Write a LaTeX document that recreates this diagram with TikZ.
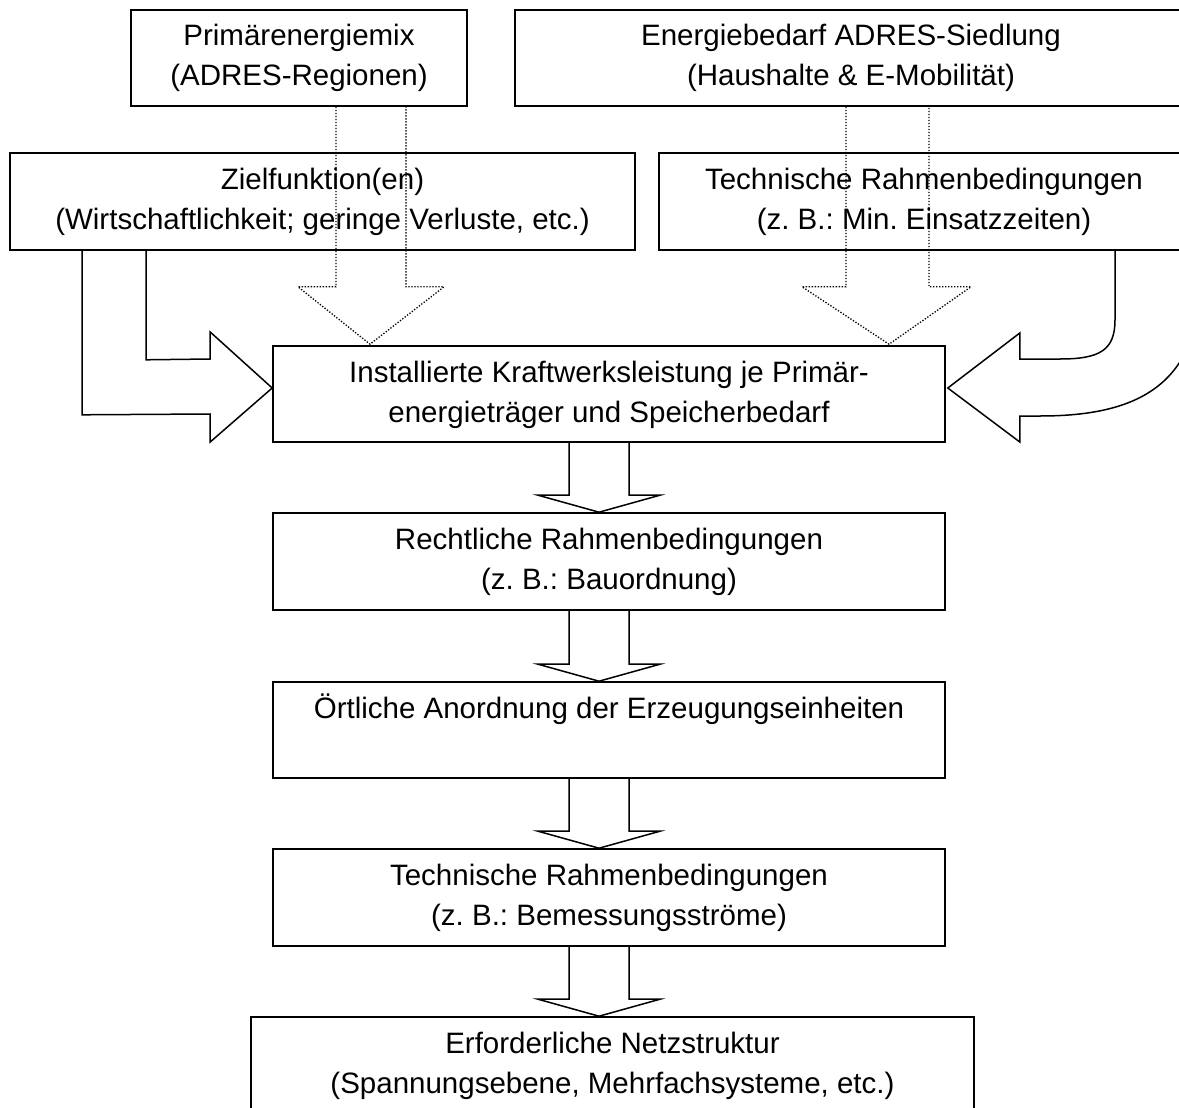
\documentclass[tikz,border=0pt]{standalone}
\usepackage{fontspec}
\setmainfont{Liberation Sans}
\usetikzlibrary{calc}
\frenchspacing
\begin{document}
\begin{tikzpicture}[x=1pt,y=-1pt,
  box/.style={draw=black, line width=1.6pt, align=center, minimum height=96pt, inner sep=0pt,
    font=\fontsize{29.5}{40}\selectfont},
  flow/.style={draw=black, line width=1.5pt, line join=miter},
  dots/.style={draw=black, line width=1.3pt, dash pattern=on 1.3pt off 1.7pt}]
\useasboundingbox (0,0) rectangle (1179,1108);
\clip (0,0) rectangle (1179,1108);
% boxes
\node[box, minimum width=336pt] (b1) at (299,58) {\strut Primärenergiemix\\\strut (ADRES-Regionen)};
\node[box, minimum width=672pt] (b2) at (851,58) {\strut Energiebedarf ADRES-Siedlung\\\strut (Haushalte \& E-Mobilität)};
\node[box, minimum width=625pt, minimum height=97pt] (z) at (322.5,201.5) {\strut Zielfunktion(en)\\\strut (Wirtschaftlichkeit; geringe Verluste, etc.)};
\node[box, minimum width=530pt, minimum height=97pt] (t1) at (924,201.5) {\strut Technische Rahmenbedingungen\\\strut (z. B.: Min. Einsatzzeiten)};
\node[box, minimum width=672pt] (inst) at (609,394) {\strut Installierte Kraftwerksleistung je Primär-\\\strut energieträger und Speicherbedarf};
\node[box, minimum width=672pt, minimum height=97pt] (r) at (609,561.5) {\strut Rechtliche Rahmenbedingungen\\\strut (z. B.: Bauordnung)};
\node[box, minimum width=672pt] (o) at (609,730) {\strut Örtliche Anordnung der Erzeugungseinheiten\\\strut};
\node[box, minimum width=672pt, minimum height=97pt] (t2) at (609,897.5) {\strut Technische Rahmenbedingungen\\\strut (z. B.: Bemessungsströme)};
\node[box, minimum width=723pt] (e) at (612.5,1065) {\strut Erforderliche Netzstruktur\\\strut (Spannungsebene, Mehrfachsysteme, etc.)};
% down block arrows
\foreach \a/\b in {inst/r, r/o, o/t2, t2/e}{
  \draw[flow] ($(\a.south)+(-40,0)$) -- ($(\a.south |- \b.north)+(-40,-17)$) -- ($(\a.south |- \b.north)+(-71,-17)$)
    -- ($(\a.south |- \b.north)+(-10,0)$) -- ($(\a.south |- \b.north)+(51,-17)$) -- ($(\a.south |- \b.north)+(20,-17)$) -- ($(\a.south)+(20,0)$);
}
% left block arrow from Zielfunktion
\draw[flow] ($(z.south west)+(73,0)$) -- ($(z.south west)+(73,164)$) -- ($(inst.west)+(-62,20)$)
  -- ($(inst.west)+(-62,48)$) -- ($(inst.west)+(0,-6)$) -- ($(inst.west)+(-62,-62)$)
  -- ($(inst.west)+(-62,-35)$) -- ($(z.south west)+(137,109)$) -- ($(z.south west)+(137,0)$);
% right curved block arrow from Technische Rahmenbedingungen
\coordinate (ri) at (1115,250);
\draw[flow] (ri) -- (1115,320) .. controls (1115,350) and (1100,359) .. (1060,359)
  -- ($(inst.east)+(74,-35)$) -- ($(inst.east)+(74,-61)$) -- ($(inst.east)+(2,-6)$)
  -- ($(inst.east)+(74,48)$) -- ($(inst.east)+(74,22)$) -- (1040,416)
  .. controls (1130,416) and (1190,390) .. (1200,300) -- (1200,250);
% dotted block arrows
\draw[dots] ($(b1.south)+(37,0)$) -- ($(b1.south)+(37,180)$) -- ($(b1.south)+(-1,180)$)
  -- ($(inst.north)+(-239,-1)$) -- ($(b1.south)+(145,180)$) -- ($(b1.south)+(107,180)$) -- ($(b1.south)+(107,0)$);
\draw[dots] ($(b2.south)+(-5,0)$) -- ($(b2.south)+(-5,180)$) -- ($(b2.south)+(-49,180)$)
  -- ($(inst.north)+(280,-1)$) -- ($(b2.south)+(120,180)$) -- ($(b2.south)+(78,180)$) -- ($(b2.south)+(78,0)$);
\end{tikzpicture}
\end{document}
